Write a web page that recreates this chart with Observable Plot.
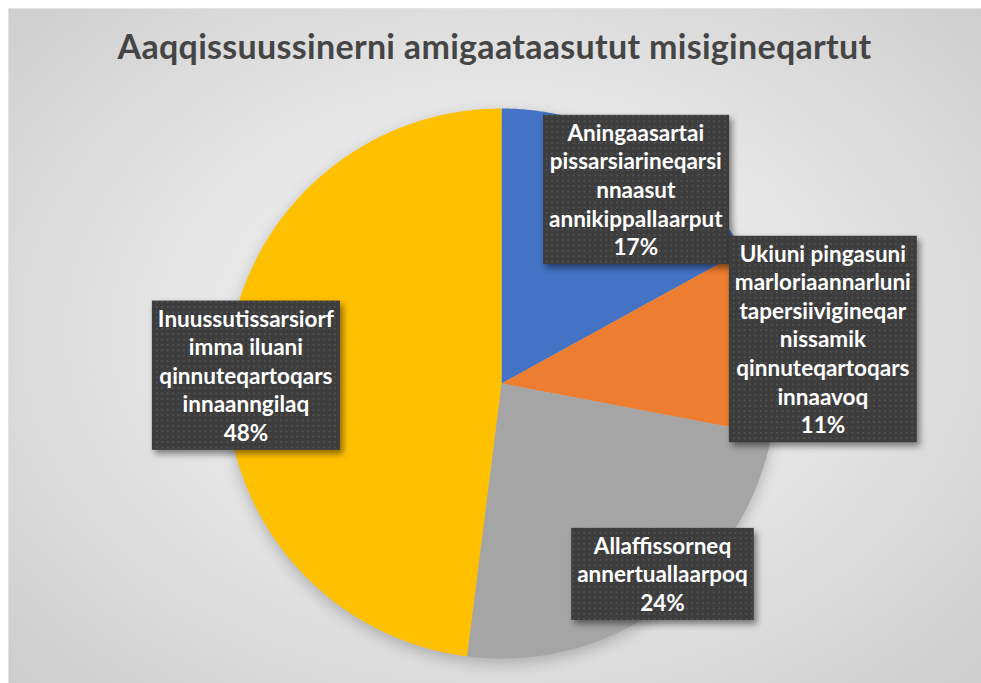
<!DOCTYPE html>
<html>
<head>
<meta charset="utf-8">
<script src="https://cdn.jsdelivr.net/npm/d3@7"></script>
<script src="https://cdn.jsdelivr.net/npm/@observablehq/plot@0.6"></script>
<style>
  html, body { margin: 0; padding: 0; background: #ffffff; width: 981px; height: 683px; overflow: hidden; }
  #frame {
    position: absolute; left: 8px; top: 8px; width: 973px; height: 675px;
    background: radial-gradient(ellipse 70% 75% at 50% 48%, #f1f1f1 0%, #e6e6e6 45%, #cdcdcd 100%);
    border-left: 1px solid #e2e2e2; border-top: 1px solid #e2e2e2;
    box-sizing: border-box;
  }
  #title {
    position: absolute; left: 8px; width: 973px; top: 29px;
    text-align: center; font-family: Lato, "Open Sans", sans-serif; font-weight: bold;
    font-size: 34px; letter-spacing: 0.3px; line-height: 1; color: #454545; white-space: nowrap;
  }
  #chart { position: absolute; left: 0; top: 0; }
</style>
</head>
<body>
<div id="frame"></div>
<div id="title">Aaqqissuussinerni amigaataasutut misigineqartut</div>
<div id="chart"></div>
<script>
// ---- data ----
const categories = [
  "Aningaasartai pissarsiarineqarsinnaasut annikippallaarput",
  "Ukiuni pingasuni marloriaannarluni tapersiivigineqarnissamik qinnuteqartoqarsinnaavoq",
  "Allaffissorneq annertuallaarpoq",
  "Inuussutissarsiorfimma iluani qinnuteqartoqarsinnaanngilaq"
];
const values = [17, 11, 24, 48];
const labelLines = [
  "Aningaasartai\npissarsiarineqarsi\nnnaasut\nannikippallaarput",
  "Ukiuni pingasuni\nmarloriaannarluni\ntapersiivigineqar\nnissamik\nqinnuteqartoqars\ninnaavoq",
  "Allaffissorneq\nannertuallaarpoq",
  "Inuussutissarsiorf\nimma iluani\nqinnuteqartoqars\ninnaanngilaq"
];
const colors = ["#4472C4", "#ED7D31", "#A5A5A5", "#FFC000"];

// ---- layout (label placement relative to slice mid-angle) ----
const labelRadius = [0.86, 1.18, 0.905, 0.93];
const labelAngleShift = [4, 1, -4.3, -1.6]; // degrees

// ---- build slices ----
const total = d3.sum(values);
const arcs = d3.pie().sort(null).value(d => d)(values);
const slicePts = [];
arcs.forEach((a, i) => {
  slicePts.push({cat: categories[i], x: 0, y: 0});
  const n = Math.max(2, Math.ceil((a.endAngle - a.startAngle) / (Math.PI / 360)));
  for (let k = 0; k <= n; k++) {
    const t = a.startAngle + (a.endAngle - a.startAngle) * k / n;
    slicePts.push({cat: categories[i], x: Math.sin(t), y: Math.cos(t)});
  }
});
const labels = arcs.map((a, i) => {
  const mid = (a.startAngle + a.endAngle) / 2 + labelAngleShift[i] * Math.PI / 180;
  const r = labelRadius[i];
  return {
    cat: categories[i],
    x: r * Math.sin(mid),
    y: r * Math.cos(mid),
    text: labelLines[i] + "\n" + Math.round(values[i] / total * 100) + "%"
  };
});

const W = 981, H = 683;
const plot = Plot.plot({
  width: W, height: H,
  marginLeft: 226, marginRight: W - 776, marginTop: 108, marginBottom: H - 658,
  style: {background: "transparent", overflow: "visible"},
  x: {domain: [-1, 1], axis: null},
  y: {domain: [-1, 1], axis: null},
  color: {domain: categories, range: colors},
  marks: [
    Plot.line(slicePts, {x: "x", y: "y", z: "cat", fill: "cat", stroke: null, curve: "linear-closed"}),
    Plot.text(labels, {
      x: "x", y: "y", text: "text", fill: "white",
      fontSize: 22.5, fontWeight: "bold", fontFamily: "Lato, 'Open Sans', sans-serif",
      lineHeight: 1.27, textAnchor: "middle"
    })
  ]
});
document.getElementById("chart").appendChild(plot);

// defs: dotted texture for the label boxes, shadows
const svg = d3.select(plot);
const defs = svg.insert("defs", ":first-child");
const pat = defs.append("pattern").attr("id", "dots").attr("patternUnits", "userSpaceOnUse")
  .attr("width", 5.4).attr("height", 5.4);
pat.append("rect").attr("width", 5.4).attr("height", 5.4).attr("fill", "#3d3d3d");
pat.append("circle").attr("cx", 2.7).attr("cy", 2.7).attr("r", 0.95).attr("fill", "#565656");

// pie soft shadow
svg.selectAll("g[aria-label='line']").style("filter", "drop-shadow(0px 5px 7px rgba(0,0,0,0.22))");

// label boxes behind each label text
svg.selectAll("g[aria-label='text'] text").each(function () {
  const bb = this.getBBox();
  const padX = 6, padY = 4;
  d3.select(this.parentNode).insert("rect", () => this)
    .attr("transform", this.getAttribute("transform"))
    .attr("x", bb.x - padX).attr("y", bb.y - padY)
    .attr("width", bb.width + 2 * padX).attr("height", bb.height + 2 * padY)
    .attr("fill", "url(#dots)")
    .style("filter", "drop-shadow(3px 4px 3px rgba(0,0,0,0.45))");
});
</script>
</body>
</html>
